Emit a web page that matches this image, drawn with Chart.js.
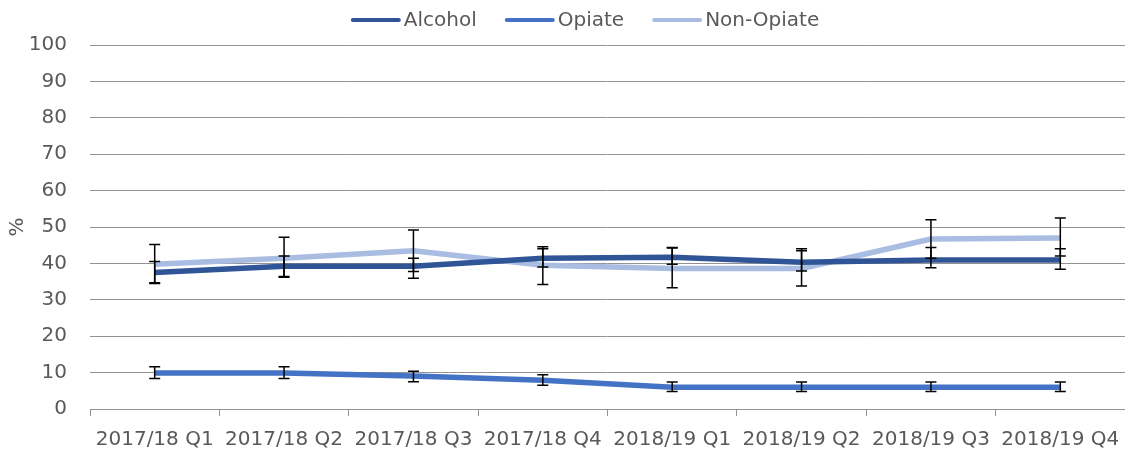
<!DOCTYPE html>
<html>
<head>
<meta charset="utf-8">
<script src="https://cdn.jsdelivr.net/npm/chart.js@4"></script>
<style>
  html, body { margin: 0; padding: 0; background: #ffffff; }
  #wrap { width: 1125px; height: 455px; position: relative; }
</style>
</head>
<body>
<div id="wrap"><canvas id="c"></canvas></div>
<script>
const categories = ['2017/18 Q1', '2017/18 Q2', '2017/18 Q3', '2017/18 Q4', '2018/19 Q1', '2018/19 Q2', '2018/19 Q3', '2018/19 Q4'];

const alcohol     = [37.5, 39.2, 39.2, 41.4, 41.7, 40.3, 40.9, 40.9];
const alcoholLow  = [34.7, 36.4, 35.9, 39.0, 39.8, 37.9, 38.8, 38.4];
const alcoholHigh = [40.5, 42.0, 41.4, 44.0, 44.4, 43.5, 44.4, 44.0];

const opiate      = [9.9, 9.9, 9.1, 7.9, 6.0, 6.0, 6.0, 6.0];
const opiateLow   = [8.4, 8.4, 7.5, 6.5, 4.8, 4.8, 4.8, 4.8];
const opiateHigh  = [11.6, 11.6, 10.4, 9.4, 7.4, 7.4, 7.4, 7.4];

const nonOpiate     = [39.8, 41.4, 43.5, 39.5, 38.6, 38.6, 46.7, 47.0];
const nonOpiateLow  = [34.5, 36.2, 37.8, 34.2, 33.3, 33.8, 41.4, 42.0];
const nonOpiateHigh = [45.2, 47.2, 49.2, 44.6, 44.2, 44.0, 52.0, 52.5];

const yTicks = [0, 10, 20, 30, 40, 50, 60, 70, 80, 90, 100];

const TEXT = '#595959';
const GRID = '#939393';
const FONT = 'DejaVu Sans';

const errorBars = {
  id: 'errorBars',
  afterDatasetsDraw(chart) {
    const ctx = chart.ctx;
    const y = chart.scales.y;
    ctx.save();
    ctx.strokeStyle = '#000000';
    ctx.lineWidth = 1.5;
    chart.data.datasets.forEach((ds, i) => {
      const meta = chart.getDatasetMeta(i);
      meta.data.forEach((pt, j) => {
        const x = pt.x;
        const y1 = y.getPixelForValue(ds.errLow[j]);
        const y2 = y.getPixelForValue(ds.errHigh[j]);
        ctx.beginPath();
        ctx.moveTo(x, y1); ctx.lineTo(x, y2);
        ctx.moveTo(x - 5.5, y1); ctx.lineTo(x + 5.5, y1);
        ctx.moveTo(x - 5.5, y2); ctx.lineTo(x + 5.5, y2);
        ctx.stroke();
      });
    });
    ctx.restore();
  }
};

const topLegend = {
  id: 'topLegend',
  afterDraw(chart) {
    const ctx = chart.ctx;
    const centerX = 585, cy = 20, swatch = 50, gap = 3, itemGap = 28;
    ctx.save();
    ctx.font = '20px "' + FONT + '"';
    const items = chart.data.datasets.map(ds => ({
      label: ds.label, color: ds.borderColor, w: swatch + gap + ctx.measureText(ds.label).width
    }));
    const total = items.reduce((s, it) => s + it.w, 0) + itemGap * (items.length - 1);
    let x = centerX - total / 2;
    items.forEach(it => {
      ctx.strokeStyle = it.color;
      ctx.lineWidth = 4;
      ctx.lineCap = 'round';
      ctx.beginPath();
      ctx.moveTo(x + 2, cy); ctx.lineTo(x + swatch - 2, cy);
      ctx.stroke();
      ctx.fillStyle = TEXT;
      ctx.textBaseline = 'middle';
      ctx.textAlign = 'left';
      ctx.fillText(it.label, x + swatch + gap, cy + 1);
      x += it.w + itemGap;
    });
    ctx.restore();
  }
};

new Chart(document.getElementById('c'), {
  type: 'line',
  data: {
    labels: categories,
    datasets: [
      { label: 'Alcohol', data: alcohol, errLow: alcoholLow, errHigh: alcoholHigh, borderColor: '#2F5597', backgroundColor: '#2F5597' },
      { label: 'Opiate', data: opiate, errLow: opiateLow, errHigh: opiateHigh, borderColor: '#4472C4', backgroundColor: '#4472C4' },
      { label: 'Non-Opiate', data: nonOpiate, errLow: nonOpiateLow, errHigh: nonOpiateHigh, borderColor: '#A9BCE2', backgroundColor: '#A9BCE2' }
    ]
  },
  options: {
    responsive: true,
    maintainAspectRatio: false,
    animation: false,
    layout: { padding: { top: 45, right: -3, left: 0, bottom: 0 } },
    elements: {
      line: { borderWidth: 5.5, tension: 0, borderJoinStyle: 'round', borderCapStyle: 'butt', fill: false },
      point: { radius: 0, hoverRadius: 0 }
    },
    plugins: {
      legend: { display: false },
      tooltip: { enabled: false }
    },
    scales: {
      x: {
        type: 'category',
        offset: true,
        grid: { display: true, drawOnChartArea: false, drawTicks: true, tickLength: 7, color: GRID, offset: true },
        border: { display: true, color: GRID, width: 1 },
        ticks: { color: TEXT, font: { family: FONT, size: 20 }, padding: 12, maxRotation: 0, autoSkip: false },
        afterFit(scale) { scale.height = 46; scale.paddingRight = 0; scale.paddingLeft = 0; }
      },
      y: {
        min: 0, max: 100,
        afterBuildTicks(scale) { scale.ticks = yTicks.map(v => ({ value: v })); },
        grid: { color: GRID, lineWidth: 1, drawTicks: false },
        border: { display: false },
        ticks: { color: TEXT, font: { family: FONT, size: 20 }, padding: 23 },
        title: { display: true, text: '%', color: TEXT, font: { family: FONT, size: 20 }, padding: { top: 6, bottom: 0 } },
        afterFit(scale) { scale.width = 90; }
      }
    }
  },
  plugins: [errorBars, topLegend]
});
</script>
</body>
</html>
